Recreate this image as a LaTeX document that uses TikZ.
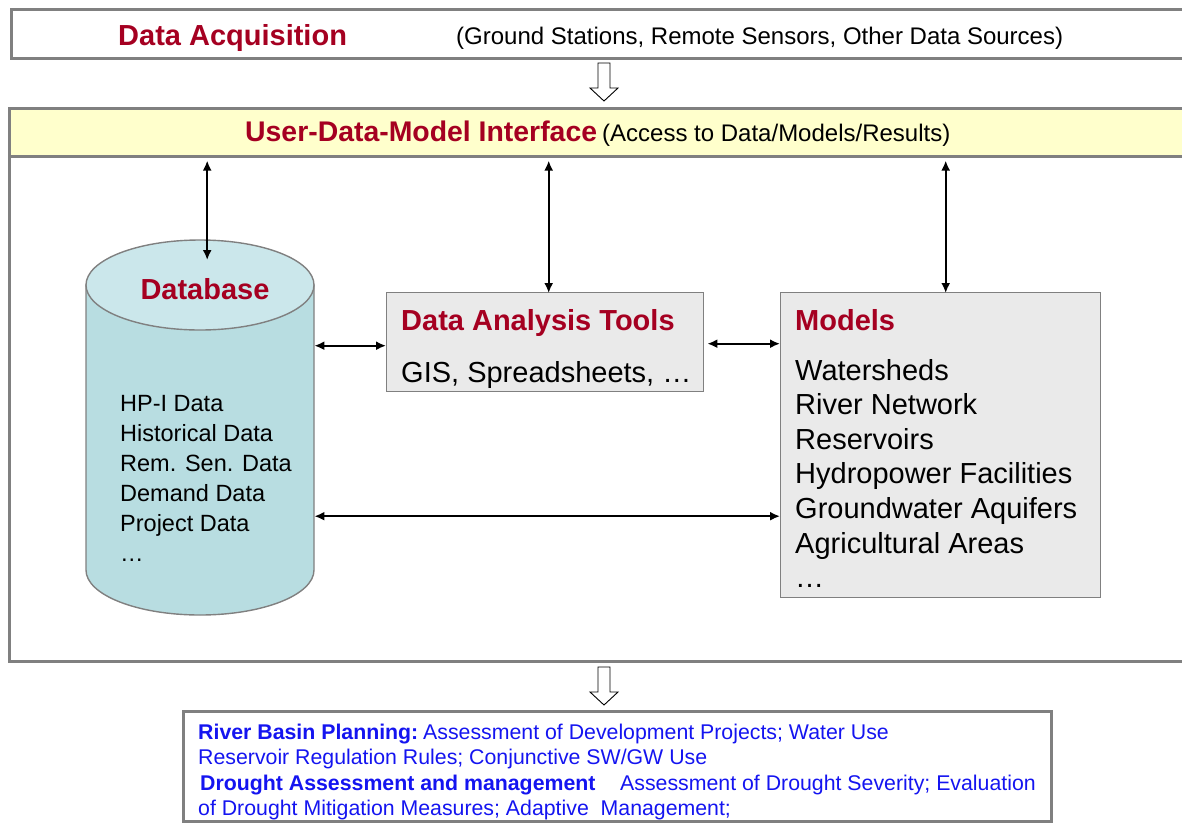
\documentclass[tikz,border=0pt]{standalone}
\usepackage{fontspec}
\setmainfont{Liberation Sans}
\usetikzlibrary{arrows.meta,calc}
\definecolor{dred}{RGB}{165,0,33}
\definecolor{bord}{RGB}{128,128,128}
\definecolor{ifill}{RGB}{255,255,204}
\definecolor{cylbody}{RGB}{184,221,225}
\definecolor{cyltop}{RGB}{203,231,235}
\definecolor{boxfill}{RGB}{234,234,234}
\definecolor{bblue}{RGB}{20,20,240}
\begin{document}
\begin{tikzpicture}[x=1pt,y=1pt,
  frame/.style={draw=bord,line width=2.6pt,inner sep=0pt,anchor=north west},
  thinbox/.style={draw=bord,line width=1.4pt,inner sep=0pt,anchor=north west},
  dbl/.style={{Latex[length=10pt,width=9pt]}-{Latex[length=10pt,width=9pt]},line width=1.9pt},
  hollow/.style={draw=black,line width=0.9pt,fill=white},
  ttl/.style={font=\fontsize{29}{34}\selectfont\bfseries,text=dred,inner sep=0pt,anchor=base west},
  big/.style={font=\fontsize{29}{34}\selectfont,inner sep=0pt,anchor=base west},
  mid/.style={font=\fontsize{24}{29}\selectfont,inner sep=0pt,anchor=base west},
  small/.style={font=\fontsize{21.3}{25}\selectfont,text=bblue,inner sep=0pt,anchor=base west}
]
\useasboundingbox (0,0) rectangle (1182,-822);
\clip (0,0) rectangle (1182,-822);

% top box
\node[frame,minimum width=1180pt,minimum height=49pt] (acq) at (10,-8) {};
\node[ttl] (acqt) at (118,-45) {Data Acquisition};
\node[mid] (acqs) at (456,-44) {(Ground Stations, Remote Sensors, Other Data Sources)};

% hollow arrow 1
\coordinate (h1) at (604,-63);
\draw[hollow] (h1) ++(-6,0) -- ++(0,-25) -- ++(-8,0) -- ++(14,-13) -- ++(14,13) -- ++(-8,0) -- ++(0,25) -- cycle;

% system box + interface
\node[frame,minimum width=1182pt,minimum height=553pt] (sys) at (8,-107) {};
\node[frame,fill=ifill,minimum width=1182pt,minimum height=48pt] (iface) at (8,-107) {};
\node[ttl,font=\fontsize{28.4}{33}\selectfont\bfseries] (ifacet) at (245,-141.5) {User-Data-Model Interface};
\node[mid] (ifaces) at (602,-141.5) {(Access to Data/Models/Results)};

% database cylinder
\node[inner sep=0pt,anchor=north west,minimum width=228pt,minimum height=374pt] (db) at (86,-240) {};
\draw[draw=bord,line width=1.4pt,fill=cylbody] (86,-285) -- (86,-570)
  arc[start angle=180,end angle=360,x radius=114,y radius=45] -- (314,-285) -- cycle;
\draw[draw=bord,line width=1.4pt,fill=cyltop] (200,-285) ellipse[x radius=114,y radius=45];
\node[ttl,anchor=base] (dbt) at (205,-299) {Database};
\foreach \t [count=\i] in {HP-I Data,Historical Data,Rem. Sen. Data,Demand Data,Project Data,…}
  \node[mid,font=\fontsize{23.5}{28}\selectfont] (dbi\i) at (120,-381-30*\i) {\t};

% data analysis tools
\node[thinbox,fill=boxfill,minimum width=317pt,minimum height=99pt] (dat) at (386,-292) {};
\node[ttl] (datt) at (401,-330) {Data Analysis Tools};
\node[big] (dats) at (401,-382) {GIS, Spreadsheets, …};

% models
\node[thinbox,fill=boxfill,minimum width=320pt,minimum height=305pt] (mod) at (780,-292) {};
\node[ttl] (modt) at (795,-330) {Models};
\foreach \t [count=\i] in {Watersheds,River Network,Reservoirs,Hydropower Facilities,Groundwater Aquifers,Agricultural Areas,…}
  \node[big] (modi\i) at (795,-345.5-34.6*\i) {\t};

% connectors
\draw[dbl] ([xshift=7pt,yshift=-3pt]iface.south -| db.north) -- ([xshift=7pt,yshift=-20pt]db.north);
\draw[dbl] ([xshift=3.5pt,yshift=-3pt]iface.south -| dat.north) -- ([xshift=3.5pt,yshift=-1pt]dat.north);
\draw[dbl] ([xshift=5pt,yshift=-3pt]iface.south -| mod.north) -- ([xshift=5pt,yshift=-1pt]mod.north);
\draw[dbl] ([yshift=-3.5pt]dat.west -| db.east) -- ([yshift=-3.5pt]dat.west);
\draw[dbl] ([xshift=3pt,yshift=-1.5pt]dat.east) -- ([yshift=-1.5pt]dat.east -| mod.west);
\draw[dbl] ([yshift=-89pt]db.east) -- ([yshift=-89pt]db.east -| mod.west);

% hollow arrow 2
\coordinate (h2) at (604,-667);
\draw[hollow] (h2) ++(-6,0) -- ++(0,-25) -- ++(-8,0) -- ++(14,-13) -- ++(14,13) -- ++(-8,0) -- ++(0,25) -- cycle;

% output box
\node[frame,minimum width=868pt,minimum height=110pt] (out) at (182,-710) {};
\node[small] (o1) at (198,-739) {\bfseries River Basin Planning:};
\node[small] (o1b) at (423,-739) {Assessment of Development Projects; Water Use};
\node[small] (o2) at (198,-764.5) {Reservoir Regulation Rules; Conjunctive SW/GW Use};
\node[small] (o3) at (200,-790) {\bfseries Drought Assessment and management};
\node[small] (o3b) at (620,-790) {Assessment of Drought Severity; Evaluation};
\node[small] (o4) at (198,-815) {of Drought Mitigation Measures; Adaptive\ \ Management;};
\end{tikzpicture}
\end{document}
